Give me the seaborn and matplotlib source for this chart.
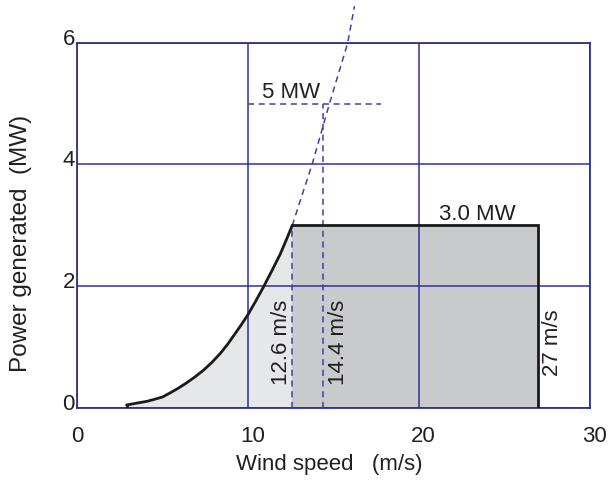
import matplotlib
matplotlib.use("Agg")
import matplotlib.pyplot as plt
import matplotlib.transforms as mtransforms
import pandas as pd
import seaborn as sns

# Power curve of a 3.0 MW wind turbine (wind speed in m/s, power in MW)
curve_ws = [2.9, 3.3, 3.7, 4.1, 4.5, 5.0, 5.4, 5.9, 6.4, 6.9, 7.4, 7.9,
            8.4, 8.8, 9.2, 9.6, 10.0, 10.45, 10.9, 11.4, 11.9, 12.25, 12.6]
curve_mw = [0.05, 0.07, 0.09, 0.11, 0.14, 0.18, 0.24, 0.32, 0.41, 0.51, 0.62, 0.75,
            0.90, 1.04, 1.20, 1.36, 1.53, 1.75, 1.98, 2.25, 2.53, 2.76, 3.0]

# Unrestricted extension of the curve above rated power
ext_ws = [12.6, 13.76, 14.78, 15.85, 16.24]
ext_mw = [3.0, 4.0, 5.0, 6.0, 6.6]

cut_in = 2.9
rated_speed = 12.6
rated_power = 3.0
cut_out = 27.0
big_speed = 14.4
big_power = 5.0

x_ticks = [0, 10, 20, 30]
y_ticks = [0, 2, 4, 6]

curve = pd.DataFrame({"ws": curve_ws, "mw": curve_mw})
ext = pd.DataFrame({"ws": ext_ws, "mw": ext_mw})

sns.set_theme(style="white")
plt.rcParams["font.family"] = ["Liberation Sans", "DejaVu Sans"]

blue = "#2E3192"
dash_blue = "#3D42A0"
ink = "#231F20"
black = "#1A1A1A"

fig = plt.figure(figsize=(6.08, 4.8), dpi=100)
ax = fig.add_axes([0.1266, 0.15, 0.843, 0.761])

# Shaded areas
ax.fill_between(curve["ws"], 0, curve["mw"], color="#E6E7E8", lw=0, zorder=1)
ax.fill_between([rated_speed, cut_out], 0, rated_power, color="#C9CACC", lw=0, zorder=1)

# Blue grid and frame
ax.set_xlim(0, 30)
ax.set_ylim(0, 6)
ax.set_xticks(x_ticks)
ax.set_yticks(y_ticks)
ax.grid(True, color=blue, lw=1.1, zorder=2)
ax.set_axisbelow(False)
for sp in ax.spines.values():
    sp.set_color(blue)
    sp.set_linewidth(1.3)
    sp.set_zorder(2)

# Dashed guide lines
dash = dict(color=dash_blue, lw=1.1, dashes=(4, 3), zorder=3)
ax.plot([rated_speed, rated_speed], [0, rated_power], **dash)
ax.plot([big_speed, big_speed], [0, big_power], **dash)
ax.plot([10, 17.8], [big_power, big_power], **dash)
sns.lineplot(data=ext, x="ws", y="mw", ax=ax, color=dash_blue, lw=1.1,
             sort=False, estimator=None, zorder=3, clip_on=False)
ax.lines[-1].set_dashes((4, 3))

# Solid power curve with rated plateau and cut-out
sns.lineplot(data=curve, x="ws", y="mw", ax=ax, color=black, lw=2.0,
             sort=False, estimator=None, zorder=4)
ax.plot([cut_in, cut_in], [0, curve_mw[0]], color=black, lw=2.0, zorder=4)
ax.plot([rated_speed, cut_out, cut_out], [rated_power, rated_power, 0],
        color=black, lw=2.0, zorder=4, solid_joinstyle="miter")

# Annotations
fs = 16
ax.text(10.85, 5.1, f"{big_power:.0f} MW", fontsize=fs, color=ink,
        ha="left", va="baseline")
ax.text(23.45, 3.08, f"{rated_power:.1f} MW", fontsize=fs, color=ink,
        ha="center", va="baseline")
ax.text(11.97, 1.08, f"{rated_speed} m/s", fontsize=fs, color=ink,
        rotation=90, ha="center", va="center")
ax.text(15.28, 1.07, f"{big_speed} m/s", fontsize=fs, color=ink,
        rotation=90, ha="center", va="center")
ax.text(27.85, 1.08, f"{cut_out:.0f} m/s", fontsize=fs, color=ink,
        rotation=90, ha="center", va="center")

# Axis labels and ticks
ax.set_xlabel("Wind speed   (m/s)", fontsize=16, color=ink)
ax.set_ylabel("Power generated  (MW)", fontsize=17.5, color=ink)
ax.xaxis.set_label_coords(0.4917, -0.125)
ax.yaxis.set_label_coords(-0.088, 0.45)
ax.tick_params(axis="both", length=0, labelsize=fs, colors=ink)
ax.tick_params(axis="x", pad=13)
ax.tick_params(axis="y", pad=1.5)
ax.set_xticklabels([str(t) for t in x_ticks])
ax.set_yticklabels([str(t) for t in y_ticks])
for lab in ax.get_yticklabels():
    lab.set_transform(lab.get_transform() +
                      mtransforms.ScaledTranslation(0, 0.06, fig.dpi_scale_trans))
for lab in ax.get_xticklabels()[1:]:
    lab.set_transform(lab.get_transform() +
                      mtransforms.ScaledTranslation(0.05, 0, fig.dpi_scale_trans))

fig.savefig("out.png", dpi=100)
